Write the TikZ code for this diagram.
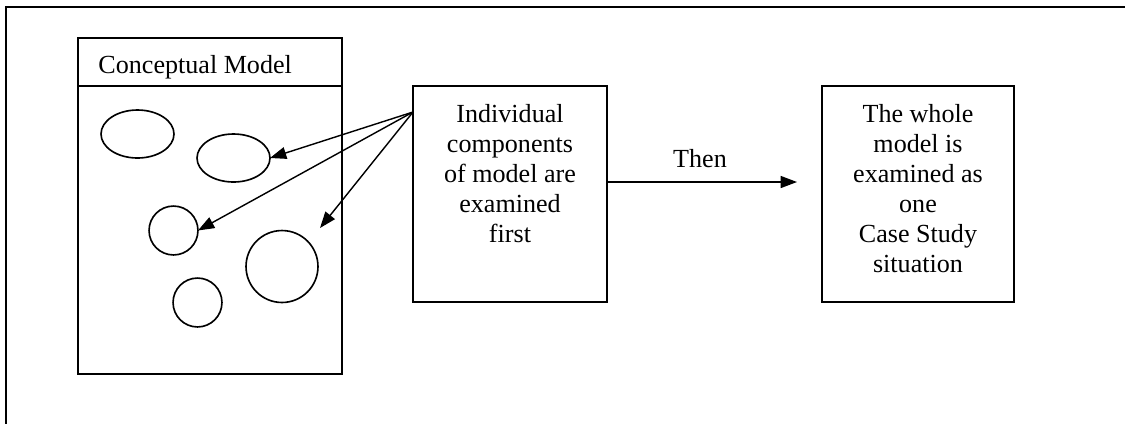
\documentclass[tikz,border=0pt]{standalone}
\usepackage{fontspec}
\setmainfont{Liberation Serif}
\usetikzlibrary{arrows.meta,shapes.geometric}
\begin{document}
\begin{tikzpicture}[x=0.46pt,y=-0.46pt,
  every node/.style={font=\fontsize{12}{13.8}\selectfont},
  box/.style={draw,line width=0.85pt,inner sep=0pt,outer sep=0pt,anchor=north west},
  blob/.style={draw,ellipse,line width=0.75pt,inner sep=0pt,outer sep=0pt},
  link/.style={line width=0.65pt,-{Triangle[length=7.5pt,width=5.5pt]}},
  words/.style={align=center,inner sep=0pt,anchor=north}]
\useasboundingbox (0,0) rectangle (1125,423);
% outer frame (open at right and bottom)
\coordinate (fa) at (6,430);
\coordinate (fb) at (6,7);
\coordinate (fc) at (1130,7);
\draw[line width=1pt] (fa) -- (fb) -- (fc);

% conceptual model panel
\node[box,minimum width=121.44pt,minimum height=154.56pt] (cm) at (78,38) {};
\coordinate (hdrL) at (78,86);
\coordinate (hdrR) at (342,86);
\draw[line width=0.85pt] (hdrL) -- (hdrR);
\node[anchor=base west,inner sep=0pt] (cmtitle) at (98,73) {Conceptual Model};

% model components
\node[blob,minimum width=33.58pt,minimum height=22.08pt] (e1) at (137.5,134) {};
\node[blob,minimum width=33.58pt,minimum height=22.08pt] (e2) at (233.5,158) {};
\node[blob,minimum size=22.5pt] (c3) at (173.5,230.5) {};
\node[blob,minimum size=33.1pt] (c4) at (282,266.5) {};
\node[blob,minimum size=22.5pt] (c5) at (197.5,302.5) {};

% step boxes
\node[box,minimum width=89.24pt,minimum height=99.36pt] (mid) at (413,86) {};
\node[words] (midtext) at (510,104) {Individual\\components\\of model are\\examined\\first};
\node[box,minimum width=88.32pt,minimum height=99.36pt] (whole) at (822,86) {};
\node[words] (wholetext) at (918,104) {The whole\\model is\\examined as\\one\\Case Study\\situation};

% arrows into the model
\coordinate (src) at (413,112);
\coordinate (gap) at (320,228);
\draw[link] (src) -- (e2.east);
\draw[link] (src) -- (c3.east);
\draw[link] (src) -- (gap);

% then arrow
\coordinate (thenend) at (797,182);
\draw[link] (mid.east |- thenend) -- (thenend);
\node[anchor=base,inner sep=0pt] (then) at (700,167) {Then};
\end{tikzpicture}
\end{document}
